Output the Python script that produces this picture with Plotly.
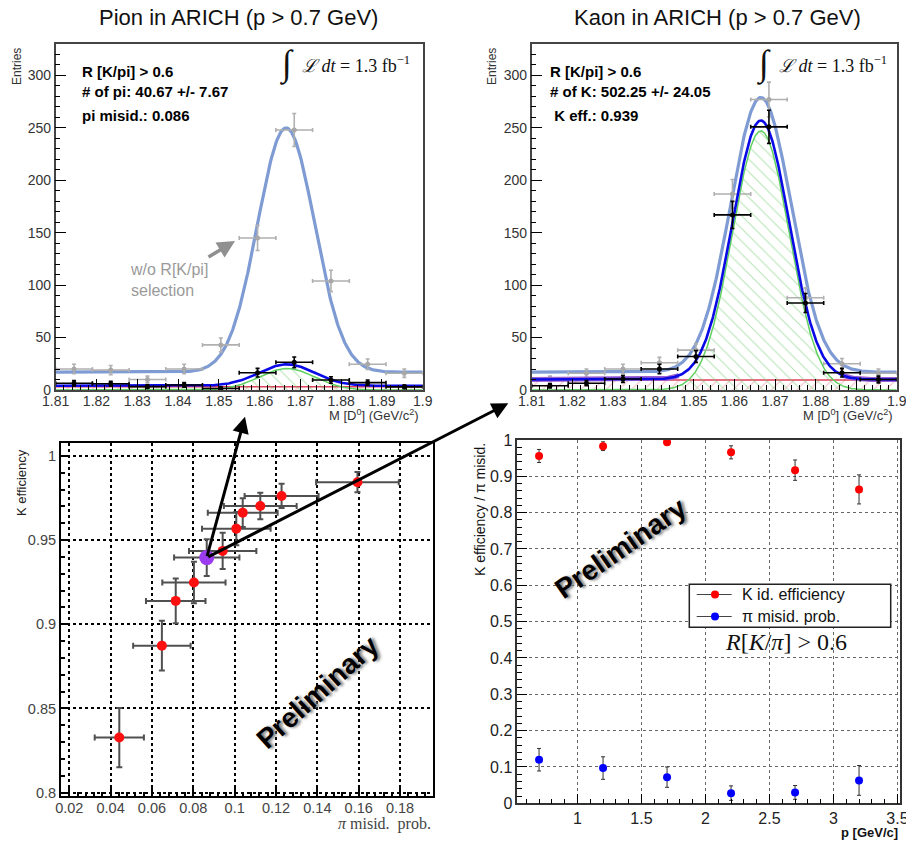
import numpy as np
import plotly.graph_objects as go

W, H = 906, 841

# ---------------- data ----------------
# D0 mass bins (bin centers, GeV/c^2), bin half width
mass_bins = [1.8145, 1.8235, 1.8325, 1.8415, 1.8505, 1.8595, 1.8685, 1.8775, 1.8865, 1.8955]
bin_half = [0.0045] * 10

# Pion panel
pi_all_vals = [20, 19, 10, 20, 43, 145, 248, 104, 24.5, 16]
pi_all_errs = [4.5, 4.4, 3.2, 4.5, 6.6, 12, 15.7, 10.2, 5.0, 4.0]
pi_sel_vals = [6.4, 6, 3.2, 4.8, 1.5, 16.5, 26.4, 9.5, 7, 3]
pi_sel_errs = [2.5, 2.4, 1.8, 2.2, 1.2, 4.1, 5.1, 3.1, 2.6, 1.7]
# fit parameters: amplitude, mean, sigma, background level
pi_fit_all = [233, 1.8665, 0.0070, 17]
pi_fit_sel = [20.5, 1.8667, 0.0068, 4]
pi_bkg_line = 3.0

# Kaon panel
k_all_vals = [10, 16, 20, 26, 38, 187, 277, 88, 25, 16]
k_all_errs = [3.2, 4.0, 4.5, 5.1, 6.2, 13.7, 16.6, 9.4, 5.0, 4.0]
k_sel_vals = [4, 6.5, 10.5, 20, 32, 167, 251, 83, 16.5, 10]
k_sel_errs = [2.0, 2.5, 3.2, 4.5, 5.7, 12.9, 15.8, 9.1, 4.1, 3.2]
k_fit_all = [262, 1.8665, 0.0075, 17]
k_fit_sel = [247, 1.8665, 0.0070, 10]
k_bkg_line = 9.5

# K efficiency vs pi misid. (scan of R[K/pi] cut)
pi_misid = [0.0442, 0.0648, 0.0715, 0.0803, 0.0865, 0.0942, 0.1008, 0.1039, 0.1124, 0.1227, 0.1594]
pi_misid_err = [0.0119, 0.0139, 0.0144, 0.0153, 0.0158, 0.0163, 0.0166, 0.0169, 0.0176, 0.0179, 0.0200]
k_eff = [0.8327, 0.8873, 0.9139, 0.9248, 0.9396, 0.9436, 0.9568, 0.9663, 0.9703, 0.9762, 0.9844]
k_eff_err = [0.0176, 0.0148, 0.0133, 0.0123, 0.0109, 0.0108, 0.0099, 0.0085, 0.0079, 0.0072, 0.0060]
sel_index = 4  # the R[K/pi] > 0.6 working point

# vs momentum
p_vals = [0.7, 1.2, 1.7, 2.2, 2.7, 3.2]
k_id_eff = [0.956, 0.983, 0.994, 0.966, 0.917, 0.864]
k_id_eff_err = [0.018, 0.012, 0.008, 0.018, 0.028, 0.040]
pi_misid_p = [0.120, 0.097, 0.072, 0.028, 0.030, 0.063]
pi_misid_p_err = [0.031, 0.031, 0.028, 0.020, 0.019, 0.041]

legend_names = ["K id. efficiency", "π misid. prob."]
legend_colors = ["#ff0000", "#0000ff"]

mass_ticks = [1.81, 1.82, 1.83, 1.84, 1.85, 1.86, 1.87, 1.88, 1.89, 1.9]
mass_ticklabels = ["1.81", "1.82", "1.83", "1.84", "1.85", "1.86", "1.87", "1.88", "1.89", "1.9"]
entries_ticks = [0, 50, 100, 150, 200, 250, 300]
misid_ticks = [0.02, 0.04, 0.06, 0.08, 0.1, 0.12, 0.14, 0.16, 0.18]
misid_ticklabels = ["0.02", "0.04", "0.06", "0.08", "0.1", "0.12", "0.14", "0.16", "0.18"]
eff_ticks = [0.8, 0.85, 0.9, 0.95, 1.0]
eff_ticklabels = ["0.8", "0.85", "0.9", "0.95", "1"]
p_ticks = [1, 1.5, 2, 2.5, 3, 3.5]
p_ticklabels = ["1", "1.5", "2", "2.5", "3", "3.5"]
frac_ticks = [0, 0.1, 0.2, 0.3, 0.4, 0.5, 0.6, 0.7, 0.8, 0.9, 1.0]
frac_ticklabels = ["0", "0.1", "0.2", "0.3", "0.4", "0.5", "0.6", "0.7", "0.8", "0.9", "1"]

# ---------------- helpers ----------------
def px_x(p):
    return p / W

def px_y(p):
    return 1 - p / H

SANS = "Liberation Sans, Arial, sans-serif"
SERIF = "Liberation Serif, DejaVu Serif, serif"

m_grid = np.linspace(1.81, 1.9, 500)

def gauss(par, bkg=True):
    a, mu, s, b = par
    return a * np.exp(-0.5 * ((m_grid - mu) / s) ** 2) + (b if bkg else 0)

fig = go.Figure()

def hist_panel(xa, ya, all_v, all_e, sel_v, sel_e, fit_all, fit_sel, bkg, purple):
    # red hatched background
    fig.add_trace(go.Scatter(x=[1.81, 1.9], y=[bkg, bkg], mode="lines", xaxis=xa, yaxis=ya,
                             line=dict(color="#e0405a", width=1.5), fill="tozeroy",
                             fillcolor="rgba(0,0,0,0)",
                             fillpattern=dict(shape="/", fgcolor="#e87a8a", bgcolor="rgba(0,0,0,0)",
                                              size=9, solidity=0.12),
                             showlegend=False, hoverinfo="skip"))
    # green signal, hatched
    fig.add_trace(go.Scatter(x=m_grid, y=gauss(fit_sel, bkg=False), mode="lines", xaxis=xa, yaxis=ya,
                             line=dict(color="#5fd05f", width=1.5), fill="tozeroy",
                             fillcolor="rgba(0,0,0,0)",
                             fillpattern=dict(shape="\\", fgcolor="#6cc96c", bgcolor="rgba(0,0,0,0)",
                                              size=9, solidity=0.12),
                             showlegend=False, hoverinfo="skip"))
    # light blue fit without selection
    fig.add_trace(go.Scatter(x=m_grid, y=gauss(fit_all), mode="lines", xaxis=xa, yaxis=ya,
                             line=dict(color="#7e9bd3", width=3.2), showlegend=False, hoverinfo="skip"))
    # gray data
    fig.add_trace(go.Scatter(x=mass_bins, y=all_v, mode="markers", xaxis=xa, yaxis=ya,
                             marker=dict(color="#a8a8a8", size=5),
                             error_x=dict(type="data", array=bin_half, color="#b0b0b0", thickness=1.6, width=2),
                             error_y=dict(type="data", array=all_e, color="#b0b0b0", thickness=1.6, width=2),
                             showlegend=False))
    if purple:
        # background component, visible along the flat tails of the fit
        sig = gauss(fit_sel, bkg=False)
        tot = gauss(fit_sel)
        bg_part = np.where(sig < 4, tot, np.nan)
        fig.add_trace(go.Scatter(x=m_grid, y=bg_part, mode="lines", xaxis=xa, yaxis=ya, connectgaps=False,
                                 line=dict(color="#9a5fd0", width=5), showlegend=False, hoverinfo="skip"))
    # blue fit with selection
    fig.add_trace(go.Scatter(x=m_grid, y=gauss(fit_sel), mode="lines", xaxis=xa, yaxis=ya,
                             line=dict(color="#0a0ae6", width=2.6), showlegend=False, hoverinfo="skip"))
    # black data
    fig.add_trace(go.Scatter(x=mass_bins, y=sel_v, mode="markers", xaxis=xa, yaxis=ya,
                             marker=dict(color="black", size=5),
                             error_x=dict(type="data", array=bin_half, color="black", thickness=1.6, width=2),
                             error_y=dict(type="data", array=sel_e, color="black", thickness=1.6, width=2),
                             showlegend=False))

hist_panel("x", "y", pi_all_vals, pi_all_errs, pi_sel_vals, pi_sel_errs, pi_fit_all, pi_fit_sel, pi_bkg_line, False)
hist_panel("x2", "y2", k_all_vals, k_all_errs, k_sel_vals, k_sel_errs, k_fit_all, k_fit_sel, k_bkg_line, True)

# bottom-left: K eff vs pi misid
fig.add_trace(go.Scatter(x=pi_misid, y=k_eff, mode="markers", xaxis="x3", yaxis="y3",
                         marker=dict(color="#ff1010", size=10),
                         error_x=dict(type="data", array=pi_misid_err, color="#505050", thickness=2, width=3),
                         error_y=dict(type="data", array=k_eff_err, color="#505050", thickness=2, width=3),
                         showlegend=False))
fig.add_trace(go.Scatter(x=[pi_misid[sel_index]], y=[k_eff[sel_index]], mode="markers", xaxis="x3", yaxis="y3",
                         marker=dict(color="#9b3cf0", size=15), showlegend=False))

# bottom-right: vs p
fig.add_trace(go.Scatter(x=p_vals, y=k_id_eff, mode="markers", xaxis="x4", yaxis="y4",
                         marker=dict(color=legend_colors[0], size=8),
                         error_y=dict(type="data", array=k_id_eff_err, color="#303030", thickness=1, width=2),
                         name=legend_names[0], showlegend=False))
fig.add_trace(go.Scatter(x=p_vals, y=pi_misid_p, mode="markers", xaxis="x4", yaxis="y4",
                         marker=dict(color=legend_colors[1], size=8),
                         error_y=dict(type="data", array=pi_misid_p_err, color="#303030", thickness=1, width=2),
                         name=legend_names[1], showlegend=False))

# ---------------- axes ----------------
dom_tl = ([55.7, 422.7], [44, 390])
dom_tr = ([531.7, 896.7], [44, 390])
dom_bl = ([61, 432.7], [443.3, 796])
dom_br = ([517.3, 900], [440, 803.3])

def xd(d):
    return [px_x(d[0][0]), px_x(d[0][1])]

def yd(d):
    return [px_y(d[1][1]), px_y(d[1][0])]

def hist_x():
    return dict(range=[1.81, 1.9], tickvals=mass_ticks, ticktext=mass_ticklabels, automargin=False,
                ticks="inside", ticklen=11, tickcolor="black", tickwidth=1.3, ticklabelstandoff=-3,
                ticklabeloverflow="allow",
                minor=dict(ticks="inside", ticklen=5, tick0=1.81, dtick=0.002, tickcolor="black"),
                showline=True, mirror=True, linecolor="#444", linewidth=1.5, showgrid=False, zeroline=False,
                tickfont=dict(family=SANS, size=14, color="#333"))

def hist_y():
    return dict(range=[0, 330], tickvals=entries_ticks, ticks="inside", ticklen=11, tickcolor="black",
                tickwidth=1.3, automargin=False, ticklabeloverflow="allow",
                minor=dict(ticks="inside", ticklen=5, tick0=0, dtick=10, tickcolor="black"),
                showline=True, mirror=True, linecolor="#444", linewidth=1.5, showgrid=False, zeroline=False,
                tickfont=dict(family=SANS, size=14, color="#333"))

fig.update_layout(
    xaxis=dict(domain=xd(dom_tl), anchor="y", **hist_x()),
    yaxis=dict(domain=yd(dom_tl), anchor="x", **hist_y()),
    xaxis2=dict(domain=xd(dom_tr), anchor="y2", **hist_x()),
    yaxis2=dict(domain=yd(dom_tr), anchor="x2", **hist_y()),
    xaxis3=dict(domain=xd(dom_bl), anchor="y3", range=[0.016, 0.1958], tickvals=misid_ticks, automargin=False,
                ticktext=misid_ticklabels, ticks="inside", ticklen=8, tickcolor="black", tickwidth=1.5,
                ticklabelstandoff=-2, ticklabeloverflow="allow",
                minor=dict(ticks="inside", ticklen=4, tick0=0.02, dtick=0.004, tickcolor="black"),
                showline=True, mirror=True, linecolor="black", linewidth=2, zeroline=False,
                showgrid=True, gridcolor="black", griddash="dot", gridwidth=2,
                tickfont=dict(family=SANS, size=14.5, color="#444")),
    yaxis3=dict(domain=yd(dom_bl), anchor="x3", range=[0.798, 1.0075], tickvals=eff_ticks, automargin=False,
                ticktext=eff_ticklabels, ticks="inside", ticklen=8, tickcolor="black", tickwidth=1.5,
                ticklabeloverflow="allow",
                minor=dict(ticks="inside", ticklen=4, tick0=0.8, dtick=0.01, tickcolor="black"),
                showline=True, mirror=True, linecolor="black", linewidth=2, zeroline=False,
                showgrid=True, gridcolor="black", griddash="dot", gridwidth=2,
                tickfont=dict(family=SANS, size=14.5, color="#444")),
    xaxis4=dict(domain=xd(dom_br), anchor="y4", range=[0.53, 3.52], tickvals=p_ticks, ticktext=p_ticklabels,
                ticks="inside", ticklen=10, tickcolor="black", tickwidth=1.3, automargin=False,
                ticklabeloverflow="allow",
                minor=dict(ticks="inside", ticklen=5, tick0=0, dtick=0.1, tickcolor="black"),
                showline=True, mirror=True, linecolor="#333", linewidth=1.5, zeroline=False,
                showgrid=True, gridcolor="#666", griddash="dot", gridwidth=1,
                tickfont=dict(family=SANS, size=16, color="#222")),
    yaxis4=dict(domain=yd(dom_br), anchor="x4", range=[0, 1.0], tickvals=frac_ticks, ticktext=frac_ticklabels,
                ticks="inside", ticklen=10, tickcolor="black", tickwidth=1.3, automargin=False,
                ticklabeloverflow="allow",
                minor=dict(ticks="inside", ticklen=5, tick0=0, dtick=0.02, tickcolor="black"),
                showline=True, mirror=True, linecolor="#333", linewidth=1.5, zeroline=False,
                showgrid=True, gridcolor="#666", griddash="dot", gridwidth=1,
                tickfont=dict(family=SANS, size=16, color="#222")),
)

# ---------------- annotations ----------------
ann = []
shapes = []

def text(x, y, t, size=14, color="black", family=SANS, xanchor="center", yanchor="middle", angle=0, **kw):
    ann.append(dict(x=px_x(x), y=px_y(y), xref="paper", yref="paper", text=t, showarrow=False,
                    font=dict(family=family, size=size, color=color, **kw.pop("font_extra", {})),
                    xanchor=xanchor, yanchor=yanchor, textangle=angle, **kw))

# titles
text(238.5, 17, "Pion in ARICH (p &gt; 0.7 GeV)", size=22, color="#111")
text(717, 17, "Kaon in ARICH (p &gt; 0.7 GeV)", size=22, color="#111")

# stats boxes
for (x0, lines) in [(80, ["R [K/pi] &gt; 0.6", "# of pi: 40.67 +/- 7.67", "pi misid.: 0.086"]),
                    (548, ["R [K/pi] &gt; 0.6", "# of K: 502.25 +/- 24.05", " K eff.: 0.939"])]:
    for yy, t in zip([71, 91, 115], lines):
        text(x0, yy, "<b>" + t + "</b>", size=15, xanchor="left")

# luminosity
for xi, xt in [(287, 300), (764, 777)]:
    text(xi, 64, "∫", size=36, family=SERIF, color="#111")
    text(xt, 65, "<i>ℒ dt</i> = 1.3 fb<sup>−1</sup>", size=18, family=SERIF, color="#111", xanchor="left")

# axis titles
text(17, 67, "Entries", size=12, color="#333", angle=-90)
text(492, 67, "Entries", size=12, color="#333", angle=-90)
text(421, 415, "M [D<sup>0</sup>] (GeV/c<sup>2</sup>)", size=13, color="#333", xanchor="right")
text(895, 415, "M [D<sup>0</sup>] (GeV/c<sup>2</sup>)", size=13, color="#333", xanchor="right")
text(21, 483, "K efficiency", size=13, color="#222", angle=-90)
text(433, 824, "<i>π</i> misid.  prob.", size=16, family=SERIF, color="#444", xanchor="right")
text(480, 510, "K efficiency / π misid.", size=14, color="#111", angle=-90)
text(900, 832, "<b>p [GeV/c]</b>", size=13, color="#111", xanchor="right")

# w/o selection label
text(128, 280, "w/o R[K/pi]<br>selection", size=16, color="#9a9a9a", xanchor="left", align="left")

# legend box (bottom-right panel)
lx0, lx1, ly0, ly1 = 689.3, 890.7, 584.3, 627.3
shapes.append(dict(type="rect", xref="paper", yref="paper", x0=px_x(lx0), x1=px_x(lx1),
                   y0=px_y(ly1), y1=px_y(ly0), line=dict(color="#222", width=1.5), fillcolor="white",
                   layer="above"))
for row_y, name, col in zip([594.5, 616.5], legend_names, legend_colors):
    shapes.append(dict(type="line", xref="paper", yref="paper", x0=px_x(696.7), x1=px_x(731.7),
                       y0=px_y(row_y), y1=px_y(row_y), line=dict(color="#444", width=1), layer="above"))
    shapes.append(dict(type="circle", xref="paper", yref="paper", x0=px_x(711), x1=px_x(719),
                       y0=px_y(row_y + 4), y1=px_y(row_y - 4), line=dict(color=col, width=0),
                       fillcolor=col, layer="above"))
    text(740, row_y, name, size=16, color="#111", xanchor="left")

# R cut label
text(786, 642, "<i>R</i>[<i>K</i>/<i>π</i>] &gt; 0.6", size=24, family=SERIF, color="#111")

# Preliminary
text(317, 692, "<b>Preliminary</b>", size=28, color="black", angle=-42,
     font_extra=dict(shadow="2px 2px 3px #777"))
text(620, 548, "<b>Preliminary</b>", size=28, color="black", angle=-35,
     font_extra=dict(shadow="2px 2px 3px #777"))

# arrows
ann.append(dict(x=px_x(235), y=px_y(241), xref="paper", yref="paper", ax=-28, ay=17,
                axref="pixel", ayref="pixel", showarrow=True, arrowhead=2, arrowsize=1,
                arrowwidth=3.5, arrowcolor="#909090", text=""))
ann.append(dict(x=px_x(245), y=px_y(416.7), xref="paper", yref="paper", ax=-38.3, ay=141,
                axref="pixel", ayref="pixel", showarrow=True, arrowhead=2, arrowsize=1.1,
                arrowwidth=3, arrowcolor="black", text=""))
ann.append(dict(x=px_x(508.3), y=px_y(403.3), xref="paper", yref="paper", ax=-301.6, ay=154.4,
                axref="pixel", ayref="pixel", showarrow=True, arrowhead=2, arrowsize=1.1,
                arrowwidth=3, arrowcolor="black", text=""))

fig.update_layout(
    annotations=ann,
    shapes=shapes,
    width=W, height=H,
    margin=dict(l=0, r=0, t=0, b=0),
    paper_bgcolor="white", plot_bgcolor="white",
    font=dict(family=SANS),
    showlegend=False,
)

# remove the browser's default 8px page margin so the figure fills the 906x841 window
fig.write_html("out.html", config={"displayModeBar": False},
               post_script="document.body.style.margin='0px';")
